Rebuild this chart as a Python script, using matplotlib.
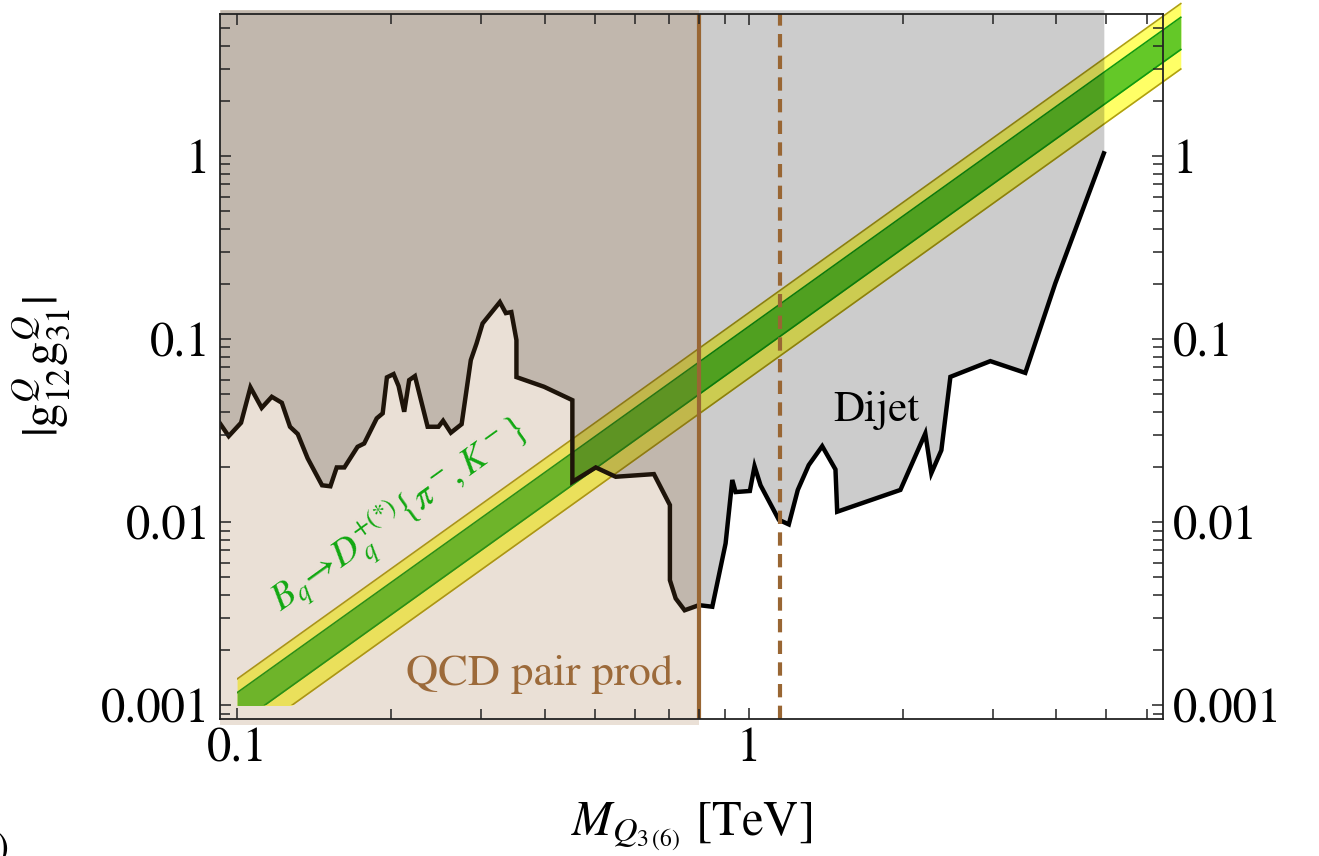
import matplotlib.pyplot as plt
from matplotlib.patches import Rectangle
from matplotlib.ticker import LogLocator, NullFormatter

plt.rcParams['font.family'] = 'STIXGeneral'
plt.rcParams['mathtext.fontset'] = 'stix'

# dijet limit on |g12 g31| versus mass [TeV]
dijet_mass = [0.0926, 0.0963, 0.1018, 0.1062, 0.1117, 0.1169, 0.1223, 0.1269, 0.1314,
              0.1374, 0.1466, 0.1522, 0.1566, 0.1621, 0.1720, 0.1772, 0.1875, 0.1926,
              0.1963, 0.2023, 0.2069, 0.2122, 0.2170, 0.2227, 0.2358, 0.2476, 0.2528,
              0.2618, 0.2748, 0.2864, 0.2939, 0.3020, 0.3264, 0.3353, 0.3437, 0.3517,
              0.3517, 0.3983, 0.4524, 0.4524, 0.5027, 0.5499, 0.6531, 0.7018, 0.7018,
              0.7203, 0.7499, 0.7999, 0.8494, 0.9018, 0.9294, 0.9433, 1.0059, 1.0273,
              1.0554, 1.1461, 1.1986, 1.2482, 1.3113, 1.3931, 1.4789, 1.4903, 1.981,
              2.216, 2.277, 2.382, 2.481, 2.970, 3.476, 3.978, 4.95]
dijet_limit = [0.0346, 0.0295, 0.0349, 0.0545, 0.0421, 0.0484, 0.0449, 0.0332, 0.0303,
               0.0223, 0.0159, 0.0157, 0.0199, 0.0199, 0.0258, 0.0269, 0.0369, 0.0393,
               0.0618, 0.0644, 0.0554, 0.0401, 0.0597, 0.0628, 0.0332, 0.0332, 0.0358,
               0.0308, 0.0343, 0.0768, 0.0947, 0.1218, 0.1593, 0.1387, 0.1405, 0.0988,
               0.0620, 0.0549, 0.0464, 0.0166, 0.0199, 0.0177, 0.0183, 0.0124, 0.00482,
               0.00383, 0.00330, 0.00352, 0.00345, 0.00765, 0.0170, 0.0146, 0.0148, 0.0202,
               0.0159, 0.0103, 0.00972, 0.0150, 0.0205, 0.0260, 0.0194, 0.0114, 0.0150,
               0.0305, 0.0185, 0.0247, 0.0622, 0.0758, 0.0654, 0.2015, 1.035]

# B_q -> D_q {pi, K} preferred band (endpoints, straight on log-log)
band_mass = [0.1, 7.0]
band_2s_lo = [0.00061, 2.99]
band_2s_hi = [0.00139, 6.81]
band_1s_lo = [0.00078, 3.82]
band_1s_hi = [0.00117, 5.73]

qcd_limit = 0.8
qcd_limit_dashed = 1.15

x_ticks = [0.1, 1]
x_ticklabels = ['0.1', '1']
y_ticks = [0.001, 0.01, 0.1, 1]
y_ticklabels = ['0.001', '0.01', '0.1', '1']

xmin, xmax = 0.0926, 6.46
ymin, ymax = 8.4e-4, 5.97
brown = '#996633'

fig = plt.figure(figsize=(13.19, 8.56), dpi=100)
ax = fig.add_axes([0.1668, 0.1600, 0.7149, 0.8236])
ax.set_xscale('log')
ax.set_yscale('log')
ax.set_xlim(xmin, xmax)
ax.set_ylim(ymin, ymax)

# band, clipped to M > 0.1 and coupling > 0.001
clip = Rectangle((band_mass[0], 0.001), 100, 100, transform=ax.transData)
arts = []
arts.append(ax.fill_between(band_mass, band_2s_lo, band_2s_hi, color='#ffff66', lw=0, zorder=1))
arts.append(ax.fill_between(band_mass, band_1s_lo, band_1s_hi, color='#64c828', lw=0, zorder=1.1))
for e in (band_2s_lo, band_2s_hi):
    arts += ax.plot(band_mass, e, color='#b0a010', lw=1.2, zorder=1.2)
for e in (band_1s_lo, band_1s_hi):
    arts += ax.plot(band_mass, e, color='#109a10', lw=1.2, zorder=1.2)
for a in arts:
    a.set_clip_path(clip)

# dijet excluded region
ax.fill_between(dijet_mass, dijet_limit, 6.3, color='black', alpha=0.2, lw=0,
                zorder=2, clip_on=False)
ax.plot(dijet_mass, dijet_limit, color='black', lw=3.2, zorder=3, solid_joinstyle='miter')

# QCD pair production
ax.fill_between([xmin, qcd_limit], 7.8e-4, 6.3, color=brown, alpha=0.2, lw=0,
                zorder=4, clip_on=False)
ax.axvline(qcd_limit, color=brown, lw=3, zorder=5)
ax.axvline(qcd_limit_dashed, color=brown, lw=3, zorder=5, linestyle=(0, (3.2, 2.0)))

ax.text(0.4005, 0.00129, 'QCD pair prod.', color='#9c6a3a', fontsize=32,
        ha='center', va='baseline', zorder=6)
ax.text(1.466, 0.0356, 'Dijet', color='black', fontsize=31, ha='left', va='baseline', zorder=6)
ax.text(0.1223, 0.00317, r'$B_q\!\rightarrow\! D_q^{+(*)}\{\pi^-\!,K^-\}$', color='#11a811',
        fontsize=27, rotation=35.6, rotation_mode='anchor', ha='left', va='baseline', zorder=6)

ax.set_xticks(x_ticks)
ax.set_xticklabels(x_ticklabels)
ax.set_yticks(y_ticks)
ax.set_yticklabels(y_ticklabels)
ax.xaxis.set_minor_locator(LogLocator(base=10, subs=range(2, 10), numticks=20))
ax.yaxis.set_minor_locator(LogLocator(base=10, subs=range(2, 10), numticks=20))
ax.xaxis.set_minor_formatter(NullFormatter())
ax.yaxis.set_minor_formatter(NullFormatter())
ax.tick_params(which='both', direction='in', top=True, right=True, labelright=True,
               labelsize=35, width=1.1, color='#222222')
ax.tick_params(which='major', length=8)
ax.tick_params(which='minor', length=7)
ax.tick_params(axis='y', pad=7)
ax.tick_params(axis='x', pad=6)
ax.xaxis.set_zorder(10)
ax.yaxis.set_zorder(10)
for s in ax.spines.values():
    s.set_linewidth(1.3)
    s.set_color('#222222')
    s.set_zorder(10)

ax.set_xlabel(r'$M_{Q_{3\,(6)}}$ [TeV]', fontsize=35)
ax.xaxis.set_label_coords(0.5, -0.116)
ax.set_ylabel(r'$|\mathrm{g}^{Q}_{12}\mathrm{g}^{Q}_{31}|$', fontsize=35)
ax.yaxis.set_label_coords(-0.156, 0.5)

fig.text(-0.003, -0.012, ')', fontsize=28, ha='left', va='bottom')

fig.savefig('out.png', dpi=100)
